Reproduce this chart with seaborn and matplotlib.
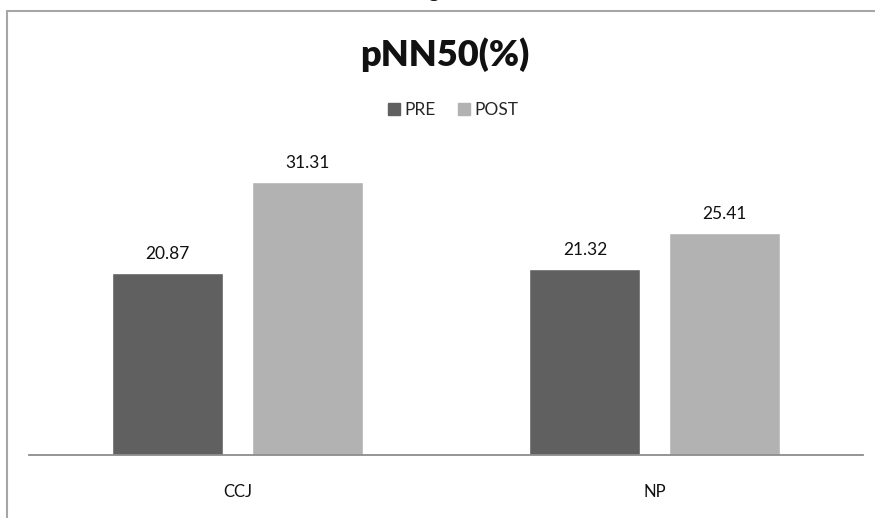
import matplotlib
matplotlib.use("Agg")
import matplotlib.pyplot as plt
from matplotlib.lines import Line2D
import pandas as pd
import seaborn as sns

# pNN50 (%) before and after, per group
groups = ["CCJ", "NP"]
phases = ["PRE", "POST"]
pre_values = [20.87, 21.32]
post_values = [31.31, 25.41]
colors = {"PRE": "#606060", "POST": "#b2b2b2"}

df = pd.DataFrame({
    "group": groups * 2,
    "phase": ["PRE"] * len(groups) + ["POST"] * len(groups),
    "value": pre_values + post_values,
})

sns.set_theme(style="white")
plt.rcParams["font.family"] = ["Lato", "DejaVu Sans"]

W, H = 875, 518
fig = plt.figure(figsize=(W / 100, H / 100), dpi=100)
fig.patch.set_facecolor("white")

# plot area: baseline at y=455 px, x from 29 to 863 px
ax_left, ax_right = 29, 863
ax_bottom, ax_top = 455, 140
ax = fig.add_axes([ax_left / W, (H - ax_bottom) / H,
                   (ax_right - ax_left) / W, (ax_bottom - ax_top) / H])

sns.barplot(data=df, x="group", y="value", hue="phase", order=groups,
            hue_order=phases, palette=colors, width=0.668, gap=0.204,
            saturation=1, legend=False, ax=ax)

ax.set_xlim(-0.5, 1.5)
ax.set_ylim(0, (ax_bottom - ax_top) / 8.72)
ax.set_xlabel("")
ax.set_ylabel("")
ax.set_yticks([])
ax.tick_params(axis="x", length=0, pad=21, labelsize=12, labelcolor="#111111")
for s in ["top", "right", "left"]:
    ax.spines[s].set_visible(False)
ax.spines["bottom"].set_color("#8c8c8c")
ax.spines["bottom"].set_linewidth(1.3)

for container in ax.containers:
    ax.bar_label(container, fmt="%.2f", padding=8, fontsize=12.5,
                 color="#111111")

# chart title and legend
fig.text(445 / W, 1 - 55 / H, "pNN50(%)", ha="center", va="center",
         fontsize=26, fontweight="heavy", color="#111111")
handles = [Line2D([], [], marker="s", linestyle="", markersize=8,
                  markerfacecolor=colors[p], markeredgecolor=colors[p])
           for p in phases]
fig.legend(handles, phases, loc="center", bbox_to_anchor=(452 / W, 1 - 110 / H),
           ncol=2, frameon=False, fontsize=12.5, handletextpad=0.1,
           columnspacing=1.1, handlelength=1.0)

# outer chart frame (top and left edges)
frame_kw = dict(color="#a6a6a6", linewidth=1.5, transform=fig.transFigure)
fig.add_artist(Line2D([7 / W, 1.0], [1 - 11 / H, 1 - 11 / H], **frame_kw))
fig.add_artist(Line2D([7 / W, 7 / W], [1 - 11 / H, 0.0], **frame_kw))

# caption above the chart
fig.text(440 / W, 1 + 3 / H, "Figure", ha="center", va="baseline",
         fontsize=14, fontweight="bold", family=["Liberation Serif"],
         color="#111111")

fig.savefig("out.png", dpi=100, facecolor="white")
